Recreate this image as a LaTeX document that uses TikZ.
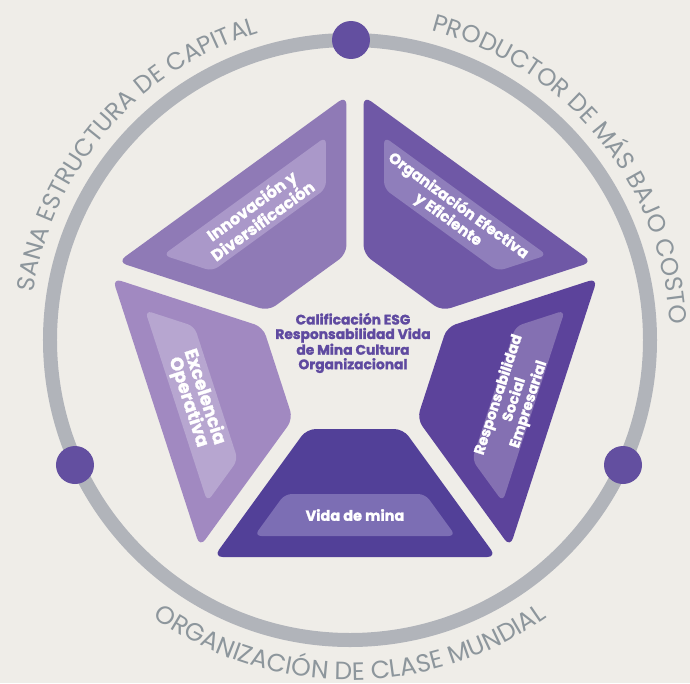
\documentclass[tikz,border=0pt]{standalone}
\usepackage{fontspec}
\setmainfont{Poppins}[BoldFeatures={FakeBold=1.5}]
\usetikzlibrary{decorations.text}
\definecolor{bgc}{RGB}{239,237,232}
\definecolor{ringc}{RGB}{177,180,186}
\definecolor{dotc}{RGB}{99,79,160}
\definecolor{arcc}{RGB}{141,150,156}
\definecolor{ctextc}{RGB}{95,74,160}
\definecolor{innA}{RGB}{143,122,182}
\definecolor{innB}{RGB}{170,152,201}
\definecolor{orgA}{RGB}{111,88,166}
\definecolor{orgB}{RGB}{143,126,187}
\definecolor{resA}{RGB}{92,67,155}
\definecolor{resB}{RGB}{132,112,178}
\definecolor{vidA}{RGB}{82,64,152}
\definecolor{vidB}{RGB}{124,110,180}
\definecolor{excA}{RGB}{161,137,193}
\definecolor{excB}{RGB}{183,166,208}
\newcommand\arcfont{\fontsize{24.5}{24.5}\selectfont}
\newcommand\arcfontb{\fontsize{25}{25}\selectfont}
% #1 rotation, #2 fill, #3 band fill, #4 text rotation, #5 name, #6 font size, #7 line skip, #8 text
\newcommand\pentseg[8]{%
  \begin{scope}[shift={(5,-8)}, rotate=#1]
    \fill[#2, rounded corners=9pt] (-141.3,-209) -- (141.3,-209) -- (48.3,-81) -- (-48.3,-81) -- cycle;
    \fill[#3, rounded corners=7pt] (-100.7,-188) -- (100.7,-188) -- (70.2,-146) -- (-70.2,-146) -- cycle;
    \node[lbl, rotate=#4, font=\bfseries\fontsize{#6}{#7}\selectfont] (#5) at (0,-167) {#8};
  \end{scope}}
\begin{document}
\begin{tikzpicture}[x=1pt,y=1pt,
  lbl/.style={text=white, align=center, inner sep=0pt},
  dotnode/.style={circle, fill=dotc, minimum size=38pt, inner sep=0pt},
  ctext/.style={text=ctextc, align=center, inner sep=0pt,
    font=\bfseries\fontsize{13.8}{14.5}\selectfont},
  arctext/.style={decorate, decoration={text along path, text align=center, text={|\arcfont\color{arcc}|#1}}},
  arctextb/.style={decorate, decoration={text along path, text align=center, text={|\arcfontb\color{arcc}|#1}}}
]
\fill[bgc] (-350,-343) rectangle (340,340);
\useasboundingbox (-350,-343) rectangle (340,340);
% ring
\draw[ringc, line width=14pt] (0,0) circle[radius=300];
\node[dotnode] (dtop) at (1,300) {};
\node[dotnode] (dleft) at (-275,-125) {};
\node[dotnode] (dright) at (273,-125) {};
% arc texts
\path[arctext={SANA ESTRUCTURA DE CAPITAL}] (179:320) arc[start angle=179, end angle=99, radius=320];
\path[arctext={PRODUCTOR DE MÁS BAJO COSTO}] (80:320) arc[start angle=80, end angle=-2, radius=320];
\path[arctextb={ORGANIZACIÓN DE CLASE MUNDIAL}] (220:340) arc[start angle=220, end angle=320, radius=340];
% pentagon segments
\pentseg{0}{vidA}{vidB}{0}{vida}{14.5}{15}{Vida de mina}
\pentseg{72}{resA}{resB}{72}{resp}{14.5}{15}{Responsabilidad\\Social\\Empresarial}
\pentseg{144}{orgA}{orgB}{-36}{orga}{15}{15.5}{Organización Efectiva\\y Eficiente}
\pentseg{216}{innA}{innB}{36}{inno}{16}{15.5}{Innovación y\\Diversificación}
\pentseg{288}{excA}{excB}{288}{exce}{18}{17}{Excelencia\\Operativa}
% center text
\node[ctext] (center) at (3,-3) {Calificación ESG\\Responsabilidad Vida\\de Mina Cultura\\Organizacional};
\end{tikzpicture}
\end{document}
